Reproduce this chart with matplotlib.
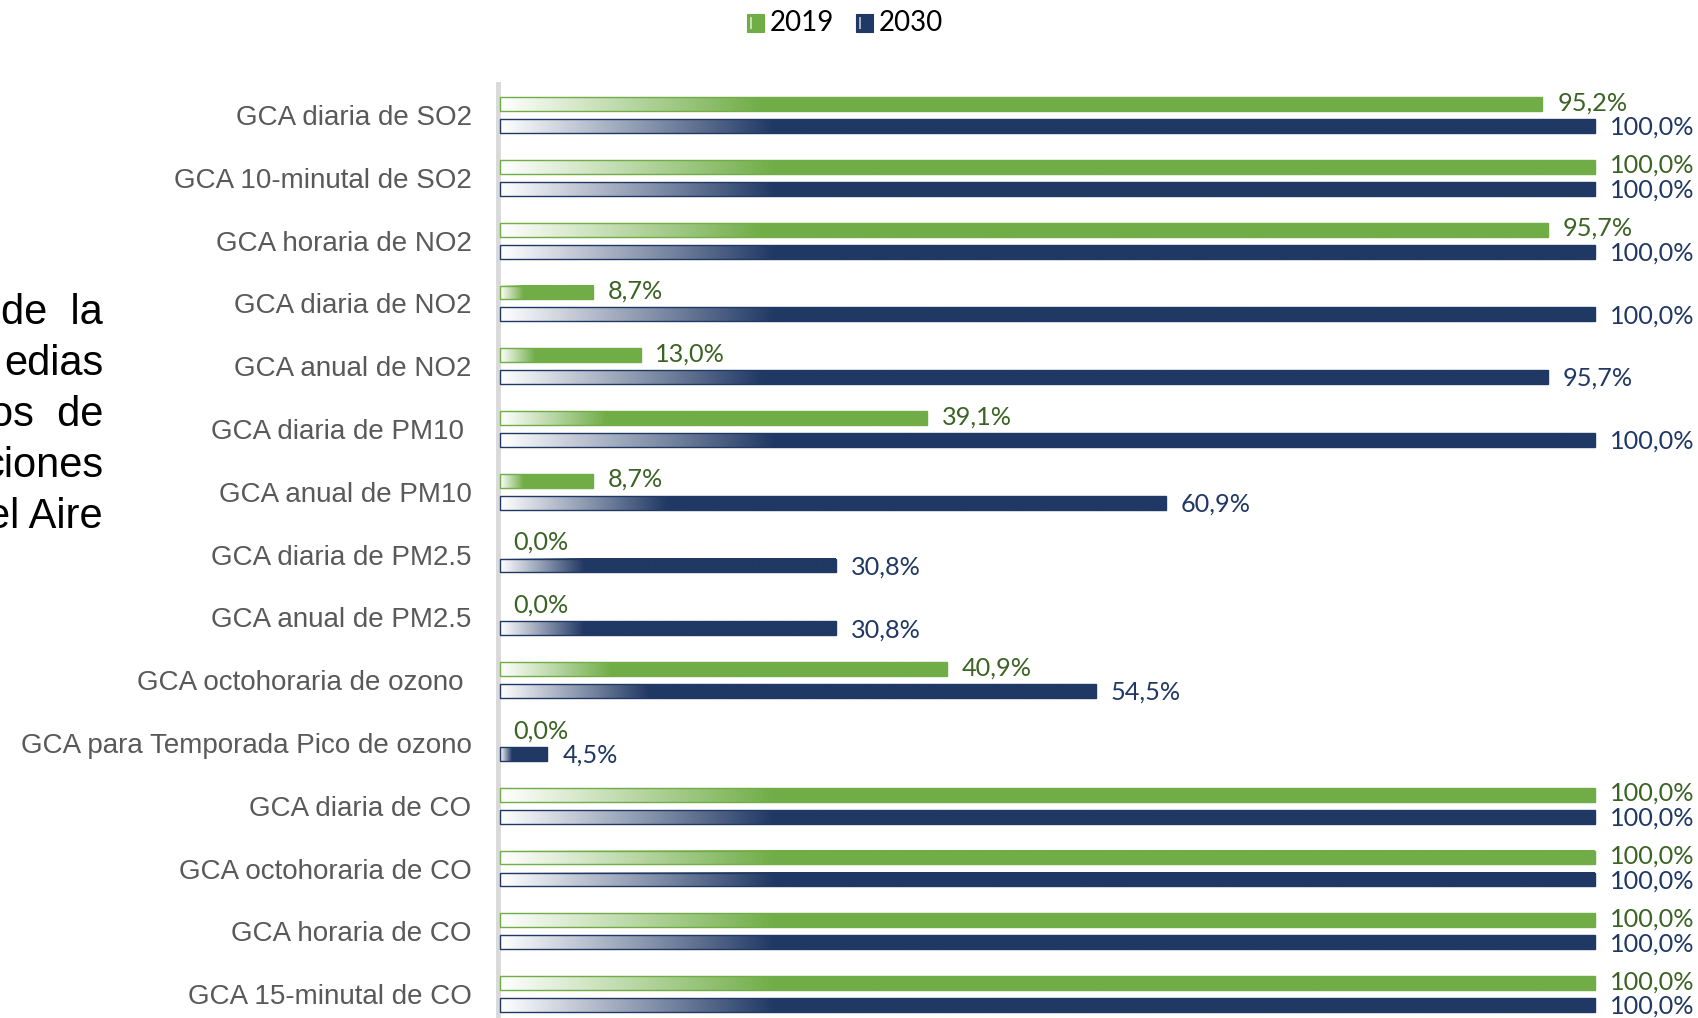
import numpy as np
import matplotlib.pyplot as plt
from matplotlib.patches import Rectangle
from matplotlib.colors import to_rgb

categories = ["GCA diaria de SO2", "GCA 10-minutal de SO2", "GCA horaria de NO2",
              "GCA diaria de NO2", "GCA anual de NO2", "GCA diaria de PM10 ",
              "GCA anual de PM10", "GCA diaria de PM2.5", "GCA anual de PM2.5",
              "GCA octohoraria de ozono ", "GCA para Temporada Pico de ozono",
              "GCA diaria de CO", "GCA octohoraria de CO", "GCA horaria de CO",
              "GCA 15-minutal de CO"]
v2019 = [95.2, 100.0, 95.7, 8.7, 13.0, 39.1, 8.7, 0.0, 0.0, 40.9, 0.0, 100.0, 100.0, 100.0, 100.0]
v2030 = [100.0, 100.0, 100.0, 100.0, 95.7, 100.0, 60.9, 30.8, 30.8, 54.5, 4.5, 100.0, 100.0, 100.0, 100.0]
series = ["2019", "2030"]
side_text = ["de  la", "edias", "os  de", "ciones", "el Aire"]

green = "#70AD47"
navy = "#203864"
green_txt = "#3B6324"
navy_txt = "#203864"

W, H = 1698, 1018
fig = plt.figure(figsize=(W / 100, H / 100), dpi=100)
ax = fig.add_axes([498 / W, 0, 1200 / W, (1018 - 84) / H])

n = len(categories)
ax.set_xlim(0, 100 * 1200 / (1595 - 498))
ax.set_ylim(n - 1 + 0.38, -0.494)

bh = 0.22
off = 0.175
x0b = 0.2  # bars start just right of the axis line


def grad_bar(y, w, color):
    if w <= 0:
        return
    c = np.array(to_rgb(color))
    t = np.clip(np.linspace(0, 1, 400) / 0.25, 0, 1)
    img = (1 - t)[:, None] * np.ones(3) + t[:, None] * c
    ax.imshow(img[None, :, :], extent=[x0b, w, y + bh / 2, y - bh / 2],
              aspect="auto", interpolation="bilinear", zorder=2)
    ax.add_patch(Rectangle((x0b, y - bh / 2), w - x0b, bh, fill=False,
                           edgecolor=color, lw=1.0, zorder=3))


def fmt(v):
    return f"{v:.1f}%".replace(".", ",")


for i in range(n):
    yg = i - off
    yn = i + off
    grad_bar(yg, v2019[i], green)
    grad_bar(yn, v2030[i], navy)
    ax.text(v2019[i] + 1.35, yg - 0.02, fmt(v2019[i]), color=green_txt,
            fontsize=18.2, family="Lato", va="center", ha="left")
    ax.text(v2030[i] + 1.35, yn + 0.02, fmt(v2030[i]), color=navy_txt,
            fontsize=18.2, family="Lato", va="center", ha="left")

ax.set_yticks(range(n))
ax.set_yticklabels(categories, fontsize=20, color="#595959", family="Liberation Sans")
ax.tick_params(axis="y", length=0, pad=19)
ax.set_xticks([])
for s in ["top", "right", "bottom"]:
    ax.spines[s].set_visible(False)
ax.spines["left"].set_color("#D9D9D9")
ax.spines["left"].set_linewidth(3.5)

# legend
for lx, col, lab in [(747, green, series[0]), (856, navy, series[1])]:
    fig.patches.append(Rectangle((lx / W, 1 - 32 / H), 17 / W, 18 / H,
                                 transform=fig.transFigure, facecolor=col,
                                 edgecolor=col, lw=0.8))
    fig.patches.append(Rectangle(((lx + 3) / W, 1 - 29 / H), 2 / W, 12 / H,
                                 transform=fig.transFigure, facecolor="white",
                                 alpha=0.6, edgecolor="none"))
    fig.text((lx + 23) / W, 1 - 23 / H, lab, fontsize=20, family="Lato",
             va="center", ha="left", color="black")

# cut-off paragraph on the left
for k, line in enumerate(side_text):
    fig.text(103 / W, 1 - (313 + 51 * k) / H, line, fontsize=30,
             family="Liberation Sans", ha="right", va="center", color="black")

fig.savefig("out.png", dpi=100)
